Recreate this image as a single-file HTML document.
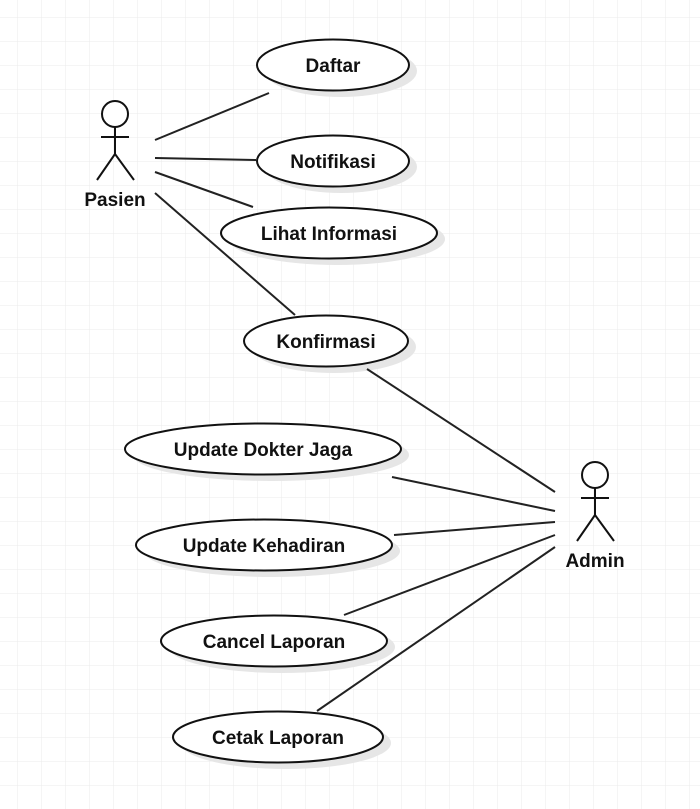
<!DOCTYPE html>
<html><head><meta charset="utf-8"><style>
html,body{margin:0;padding:0;background:#fff;}
svg{display:block}
text{font-family:"Liberation Sans",Arial,sans-serif;font-weight:bold;font-size:19px;fill:#111;text-anchor:middle}
</style></head><body>
<svg width="700" height="809" viewBox="0 0 700 809" xmlns="http://www.w3.org/2000/svg">
<defs>
<pattern id="g" x="17" y="17" width="24" height="24" patternUnits="userSpaceOnUse">
<path d="M0 0H24M0 0V24" stroke="#ebebeb" stroke-width="1" fill="none"/>
</pattern>
</defs>
<rect width="700" height="809" fill="url(#g)"/>
<g fill="#e6e6e6">
<ellipse cx="341" cy="71" rx="76" ry="26"/>
<ellipse cx="341" cy="167" rx="76" ry="26"/>
<ellipse cx="337" cy="239" rx="108" ry="26"/>
<ellipse cx="334" cy="347" rx="82" ry="26"/>
<ellipse cx="271" cy="455" rx="138" ry="26"/>
<ellipse cx="272" cy="551" rx="128" ry="26"/>
<ellipse cx="282" cy="647" rx="113" ry="26"/>
<ellipse cx="286" cy="743" rx="105" ry="26"/>
</g>
<g stroke="#222" stroke-width="2" fill="none">
<line x1="155" y1="140" x2="269" y2="93"/>
<line x1="155" y1="158" x2="256" y2="160"/>
<line x1="155" y1="172" x2="253" y2="207"/>
<line x1="155" y1="193" x2="295" y2="315"/>
<line x1="367" y1="369" x2="555" y2="492"/>
<line x1="392" y1="477" x2="555" y2="511"/>
<line x1="394" y1="535" x2="555" y2="522"/>
<line x1="344" y1="615" x2="555" y2="535"/>
<line x1="317" y1="711" x2="555" y2="547"/>
</g>
<g stroke="#111" stroke-width="2" fill="#fff">
<ellipse cx="333" cy="65" rx="76" ry="25.5"/>
<ellipse cx="333" cy="161" rx="76" ry="25.5"/>
<ellipse cx="329" cy="233" rx="108" ry="25.5"/>
<ellipse cx="326" cy="341" rx="82" ry="25.5"/>
<ellipse cx="263" cy="449" rx="138" ry="25.5"/>
<ellipse cx="264" cy="545" rx="128" ry="25.5"/>
<ellipse cx="274" cy="641" rx="113" ry="25.5"/>
<ellipse cx="278" cy="737" rx="105" ry="25.5"/>
</g>
<g stroke="#111" stroke-width="2" fill="#fff">
<circle cx="115" cy="114" r="13"/>
<path d="M115 127V154M101 137H129M97 180L115 154L134 180" fill="none"/>
<circle cx="595" cy="475" r="13"/>
<path d="M595 488V515M581 498H609M577 541L595 515L614 541" fill="none"/>
</g>
<text x="115" y="206">Pasien</text>
<text x="595" y="567">Admin</text>
<text x="333" y="72">Daftar</text>
<text x="333" y="168">Notifikasi</text>
<text x="329" y="240">Lihat Informasi</text>
<text x="326" y="348">Konfirmasi</text>
<text x="263" y="456">Update Dokter Jaga</text>
<text x="264" y="552">Update Kehadiran</text>
<text x="274" y="648">Cancel Laporan</text>
<text x="278" y="744">Cetak Laporan</text>
</svg>
</body></html>
